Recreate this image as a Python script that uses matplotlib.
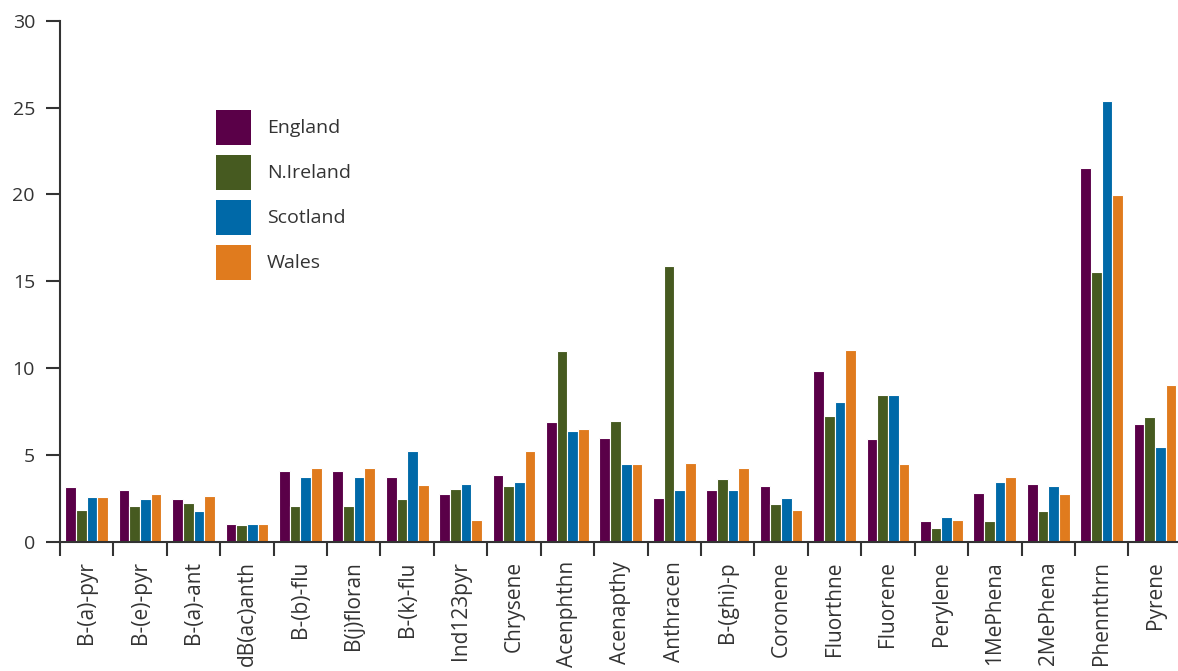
import numpy as np
import matplotlib
matplotlib.use("Agg")
from matplotlib import pyplot as plt

compounds = ["B-(a)-pyr", "B-(e)-pyr", "B-(a)-ant", "dB(ac)anth", "B-(b)-flu",
             "B(j)floran", "B-(k)-flu", "Ind123pyr", "Chrysene", "Acenphthn",
             "Acenapthy", "Anthracen", "B-(ghi)-p", "Coronene", "Fluorthne",
             "Fluorene", "Perylene", "1MePhena", "2MePhena", "Phennthrn", "Pyrene"]

england = [3.15, 2.95, 2.45, 1.0, 4.05, 4.05, 3.75, 2.75, 3.85, 6.9,
           5.95, 2.5, 2.95, 3.2, 9.8, 5.9, 1.2, 2.8, 3.35, 21.5, 6.8]
nireland = [1.85, 2.05, 2.2, 0.95, 2.05, 2.05, 2.45, 3.05, 3.2, 11.0,
            6.95, 15.9, 3.6, 2.15, 7.25, 8.45, 0.8, 1.2, 1.75, 15.5, 7.2]
scotland = [2.55, 2.45, 1.75, 1.0, 3.75, 3.75, 5.25, 3.35, 3.45, 6.35,
            4.45, 3.0, 2.95, 2.5, 8.05, 8.45, 1.4, 3.45, 3.2, 25.4, 5.45]
wales = [2.55, 2.75, 2.65, 1.0, 4.25, 4.25, 3.25, 1.25, 5.2, 6.5,
         4.45, 4.55, 4.25, 1.8, 11.05, 4.45, 1.25, 3.75, 2.75, 19.95, 9.05]

series = [("England", england, "#5a0048"),
          ("N.Ireland", nireland, "#465a20"),
          ("Scotland", scotland, "#0069a8"),
          ("Wales", wales, "#e07b1e")]

plt.rcParams["font.family"] = ["Open Sans", "DejaVu Sans"]
dark = "#333333"

fig = plt.figure(figsize=(11.78, 6.71), dpi=100)
ax = fig.add_axes([0.0509, 0.1927, 0.9523, 0.7765])

x = np.arange(len(compounds))
w = 0.2
for i, (name, vals, col) in enumerate(series):
    ax.bar(x + (i - 1.5) * w, vals, width=w, color=col, edgecolor="white",
           linewidth=0.8, label=name)

ax.set_xlim(-0.5, len(compounds) - 0.5)
ax.set_ylim(0, 30)
ax.set_yticks([0, 5, 10, 15, 20, 25, 30])
ax.set_xticks(x)
ax.set_xticklabels(compounds, rotation=90, fontsize=15, color=dark)
ax.set_xticks(np.arange(-0.5, len(compounds) + 0.5), minor=True)
ax.tick_params(axis="x", which="major", length=0, pad=14)
ax.tick_params(axis="x", which="minor", length=10, width=1.5, color=dark, direction="out")
ax.tick_params(axis="y", length=10, width=1.5, color=dark, labelsize=14,
               labelcolor=dark, pad=8)

for s in ["top", "right"]:
    ax.spines[s].set_visible(False)
for s in ["left", "bottom"]:
    ax.spines[s].set_linewidth(1.5)
    ax.spines[s].set_color(dark)

# legend: square patches 35px tall, rows 45px apart
leg = ax.legend(loc="upper left", bbox_to_anchor=(216 / 1178, 1 - 110 / 671),
                bbox_transform=fig.transFigure, frameon=False, fontsize=14,
                handlelength=1.8, handleheight=2.392, labelspacing=0.514,
                handletextpad=0.82, borderpad=0, borderaxespad=0)
for t in leg.get_texts():
    t.set_color(dark)
for p in leg.get_patches():
    p.set_edgecolor("none")

fig.savefig("out.png", dpi=100)
